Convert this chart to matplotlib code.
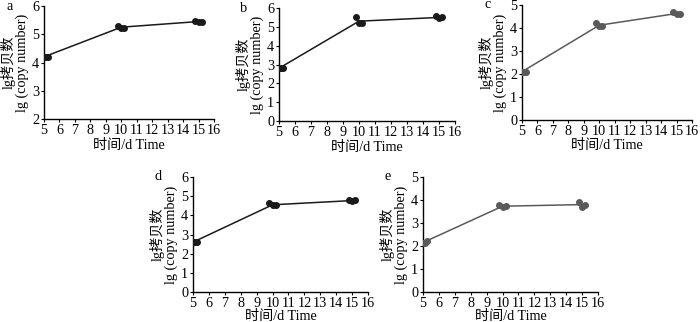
import matplotlib
matplotlib.use("Agg")
import matplotlib.pyplot as plt

plt.rcParams['font.family'] = ['Liberation Serif', 'Noto Sans CJK SC']
plt.rcParams['axes.unicode_minus'] = False

# days and replicate offsets
days = [5, 10, 15]
rep_x = [[5.0, 5.12, 5.25], [9.8, 10.0, 10.2], [14.8, 15.0, 15.2]]

# replicate values per panel (lg copy number)
a_pts = [[4.2, 4.2, 4.2], [5.28, 5.22, 5.22], [5.47, 5.42, 5.42]]
b_pts = [[2.8, 2.8, 2.8], [5.5, 5.2, 5.2], [5.55, 5.45, 5.5]]
c_pts = [[2.1, 2.1, 2.1], [4.2, 4.1, 4.1], [4.7, 4.6, 4.62]]
d_pts = [[2.6, 2.6, 2.6], [4.62, 4.52, 4.55], [4.8, 4.75, 4.8]]
e_pts = [[2.12, 2.15, 2.2], [3.8, 3.7, 3.75], [3.92, 3.7, 3.8]]

# line (mean) values
a_line = [4.2, 5.25, 5.45]
b_line = [2.8, 5.3, 5.5]
c_line = [2.1, 4.12, 4.63]
d_line = [2.6, 4.55, 4.77]
e_line = [2.15, 3.73, 3.8]

panels = [
    ('a', a_pts, a_line, (2, 6), '#1a1a1a'),
    ('b', b_pts, b_line, (0, 6), '#1a1a1a'),
    ('c', c_pts, c_line, (0, 5), '#5a5a5a'),
    ('d', d_pts, d_line, (0, 6), '#1a1a1a'),
    ('e', e_pts, e_line, (0, 5), '#5a5a5a'),
]

W, H = 700, 322
# axes boxes in pixels: left, top, right, bottom, xlabel offset
boxes = [
    (44, 6, 214, 119, 27),
    (279, 8, 455, 121, 26),
    (522, 5, 692, 120, 26),
    (193, 177, 368, 292, 24.5),
    (423, 177, 598, 292, 24.5),
]

fig = plt.figure(figsize=(7, 3.22), dpi=100)
fs = 10.2

for (letter, pts, line, ylim, col), (l, t, r, b, off) in zip(panels, boxes):
    ax = fig.add_axes([l / W, 1 - b / H, (r - l) / W, (b - t) / H])
    ax.plot(days, line, color=col, lw=1.1, zorder=2)
    for xs, ys in zip(rep_x, pts):
        ax.plot(xs, ys, 'o', color=col, ms=4, zorder=3)
    ax.set_xlim(5, 16)
    ax.set_ylim(*ylim)
    ax.set_xticks(range(5, 17))
    ax.set_yticks(range(ylim[0], ylim[1] + 1))
    for s in ['top', 'right']:
        ax.spines[s].set_visible(False)
    for s in ['left', 'bottom']:
        ax.spines[s].set_linewidth(1.0)
    ax.tick_params(direction='out', length=2.5, width=0.8, pad=1, labelsize=fs)
    # x label placed by hand, a bit tighter than the default
    ax.text(0.5, -off / (b - t), '时间/d Time', transform=ax.transAxes,
            fontsize=fs, ha='center', va='center')
    ax.set_ylabel('lg拷贝数\nlg (copy number)', fontsize=fs, labelpad=2, linespacing=1.05)
    ax.text(-0.2, 1.0, letter, transform=ax.transAxes, fontsize=fs,
            ha='center', va='center')

fig.savefig('out.png', dpi=100)
